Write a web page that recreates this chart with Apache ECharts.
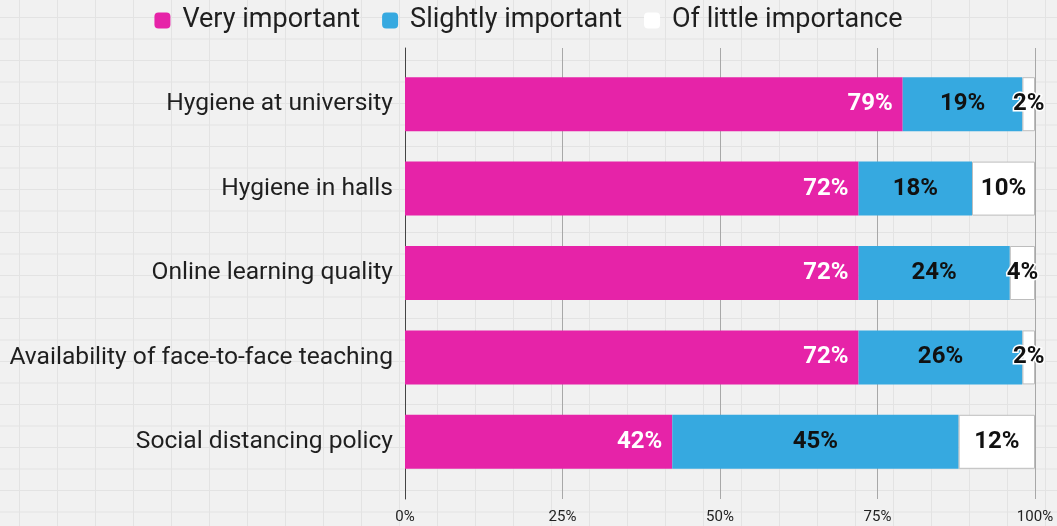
<!DOCTYPE html>
<html>
<head>
<meta charset="utf-8">
<script src="https://cdn.jsdelivr.net/npm/echarts@6/dist/echarts.min.js"></script>
<style>
  html, body { margin: 0; padding: 0; }
  body {
    width: 1057px; height: 526px; overflow: hidden;
    background-color: #f1f1f1;
    background-image:
      linear-gradient(to right, #e3e3e3 1px, transparent 1px),
      linear-gradient(to bottom, #e3e3e3 1px, transparent 1px);
    background-size: 38px 21.5px;
    background-position: 19px 17px;
  }
  #chart { width: 1057px; height: 526px; }
</style>
</head>
<body>
<div id="chart"></div>
<script>
// Survey: how important each factor is to students
const categories = [
  'Hygiene at university',
  'Hygiene in halls',
  'Online learning quality',
  'Availability of face-to-face teaching',
  'Social distancing policy'
];
const veryImportant = [79, 72, 72, 72, 42];
const slightlyImportant = [19, 18, 24, 26, 45];
const littleImportance = [2, 10, 4, 2, 12];
const seriesNames = ['Very important', 'Slightly important', 'Of little importance'];
const axisTicks = [0, 25, 50, 75, 100];

const rows = [veryImportant, slightlyImportant, littleImportance];
const rowTotals = categories.map((_, i) => rows.reduce((s, r) => s + r[i], 0));

// each segment is drawn as its share of the row, labelled with the stated percentage
function shares(values) {
  return values.map((v, i) => ({ value: v / rowTotals[i] * 100, raw: v }));
}

const FONT = 'Roboto, "Noto Sans", sans-serif';
const labelFmt = p => p.data.raw + '%';

const chart = echarts.init(document.getElementById('chart'), null, { renderer: 'canvas' });

chart.setOption({
  backgroundColor: 'transparent',
  textStyle: { fontFamily: FONT },
  legend: {
    top: 2,
    left: 'center',
    icon: 'roundRect',
    itemWidth: 16,
    itemHeight: 16,
    itemGap: 22,
    textStyle: { fontSize: 27, color: '#1f1f1f', fontFamily: FONT, padding: [0, 0, 0, 7] },
    data: [
      { name: seriesNames[0] },
      { name: seriesNames[1] },
      { name: seriesNames[2], itemStyle: { borderWidth: 0 } }
    ]
  },
  grid: [
    // bar area
    { left: 405, right: 22, top: 62, bottom: 42 },
    // taller area that carries the percentage gridlines
    { left: 405, right: 22, top: 48, bottom: 27 }
  ],
  xAxis: [
    {
      gridIndex: 0, type: 'value', min: 0, max: 100, interval: 25,
      axisLine: { show: false }, axisTick: { show: false },
      axisLabel: { show: false }, splitLine: { show: false }
    },
    {
      gridIndex: 1, type: 'value', min: axisTicks[0], max: axisTicks[axisTicks.length - 1], interval: 25,
      axisLine: { show: false }, axisTick: { show: false },
      axisLabel: { formatter: '{value}%', fontSize: 15, color: '#222', margin: 11, fontFamily: FONT },
      splitLine: { show: true, lineStyle: { color: '#a8a8a8', width: 1 } },
      z: 0
    }
  ],
  yAxis: [
    {
      gridIndex: 0, type: 'category', data: categories, inverse: true,
      axisLine: { show: false }, axisTick: { show: false },
      axisLabel: { fontSize: 24.6, color: '#1f1f1f', margin: 12, fontFamily: FONT }
    },
    {
      gridIndex: 1, type: 'value', min: 0, max: 1,
      axisLine: { show: true, lineStyle: { color: '#444', width: 1 } },
      axisTick: { show: false }, axisLabel: { show: false }, splitLine: { show: false },
      z: 0
    }
  ],
  series: [
    {
      name: seriesNames[0], type: 'bar', stack: 'total', barWidth: 54,
      xAxisIndex: 0, yAxisIndex: 0,
      itemStyle: { color: '#e623a8' },
      label: {
        show: true, position: 'insideRight', distance: 10, formatter: labelFmt,
        color: '#ffffff', fontWeight: 'bold', fontSize: 24, fontFamily: FONT
      },
      data: shares(veryImportant)
    },
    {
      name: seriesNames[1], type: 'bar', stack: 'total', barWidth: 54,
      xAxisIndex: 0, yAxisIndex: 0,
      itemStyle: { color: '#36a9e0' },
      label: {
        show: true, position: 'inside', formatter: labelFmt,
        color: '#111', fontWeight: 'bold', fontSize: 24, fontFamily: FONT
      },
      data: shares(slightlyImportant)
    },
    {
      name: seriesNames[2], type: 'bar', stack: 'total', barWidth: 54,
      xAxisIndex: 0, yAxisIndex: 0,
      itemStyle: { color: '#ffffff', borderColor: '#bdbdbd', borderWidth: 1 },
      label: {
        show: true, position: 'inside', formatter: labelFmt,
        color: '#111', fontWeight: 'bold', fontSize: 24, fontFamily: FONT,
        textBorderColor: '#ffffff', textBorderWidth: 3
      },
      data: shares(littleImportance)
    }
  ]
});
</script>
</body>
</html>
